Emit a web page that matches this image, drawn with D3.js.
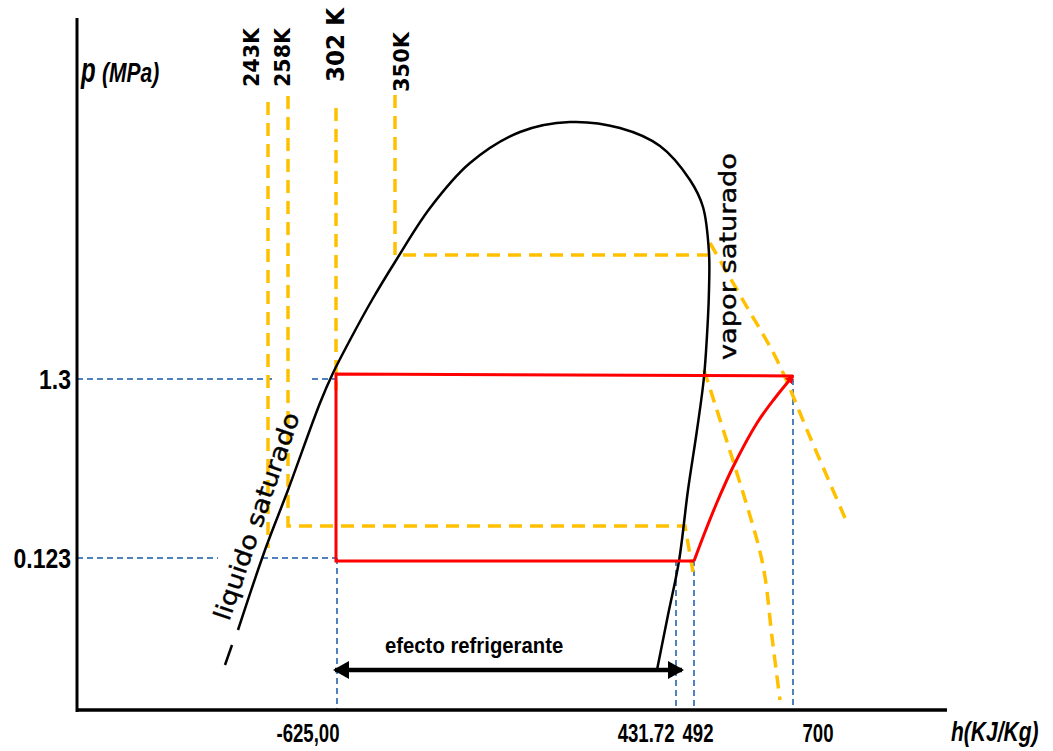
<!DOCTYPE html>
<html>
<head>
<meta charset="utf-8">
<script src="https://cdn.jsdelivr.net/npm/d3@7"></script>
<style>
  body { margin: 0; background: #fff; }
  .narrow { font-family: "Liberation Sans", Arial, sans-serif; font-weight: bold; fill: #000; }
  .verd { font-family: "DejaVu Sans", Verdana, sans-serif; fill: #000; }
</style>
</head>
<body>
<div id="chart"></div>
<script>
// unidades del diagrama (esquema, no escala real): x = h, y = p
var domo = [[161,80],[188,160],[211,220],[243,307],[256,337],[273,370],[295,410],[318,448],[353,502],
            [393,547],[443,578],[493,588],[543,582],[583,564],[613,530],[626,503],[632,457],[632,420],
            [631,393],[627,333],[620,280],[611,220],[602,149],[591,95],[580,40]];
var trazoSuelto = [[148,45],[155,65]];

var cicloRecto = [[716,334],[259,336],[259,149],[617,149]];
var compresion = [[617,149],[628,178],[641,210],[656,243],[680,287],[698,312],[716,334]];

var iso243 = [[191,608],[191,162]];
var iso258 = [[211,614],[211,184],[608,184],[616,138]];
var iso302 = [[259,602],[259,320]];
var iso302vapor = [[627,340],[680,170],[688,133],[695,73],[703,10]];
var iso350 = [[318,615],[318,455],[635,455]];
var iso350vapor = [[633,467],[667,408],[700,350],[733,273],[768,192]];
var temperaturas = ["243K", "258K", "302 K", "350K"];

var guias = [
  [[0,331],[195,331]], [[235,331],[260,331]],
  [[0,152],[141,152]], [[185,152],[260,152]],
  [[260,152],[260,0]], [[599,150],[599,0]], [[617,150],[617,0]], [[716,331],[716,0]]
];

var hTicks = [260, 599, 617, 716];
var hLabels = ["-625,00", "431.72", "492", "700"];
var pTicks = [331, 152];
var pLabels = ["1.3", "0.123"];
var efecto = [[258,40],[605,40]];

var width = 1053, height = 751;
var x = d3.scaleLinear().domain([0, 870]).range([77, 947]);
var y = d3.scaleLinear().domain([0, 690]).range([710, 20]);

var svg = d3.select("#chart").append("svg")
    .attr("width", width)
    .attr("height", height);

var defs = svg.append("defs");
defs.append("marker")
    .attr("id", "punta")
    .attr("viewBox", "0 0 16 18")
    .attr("refX", 14).attr("refY", 9)
    .attr("markerWidth", 16).attr("markerHeight", 18)
    .attr("markerUnits", "userSpaceOnUse")
    .attr("orient", "auto-start-reverse")
    .append("path").attr("d", "M0,0L16,9L0,18Z").attr("fill", "#000");
defs.append("marker")
    .attr("id", "puntaRoja")
    .attr("viewBox", "0 0 10 10")
    .attr("refX", 8).attr("refY", 5)
    .attr("markerWidth", 9).attr("markerHeight", 9)
    .attr("markerUnits", "userSpaceOnUse")
    .attr("orient", "auto")
    .append("path").attr("d", "M0,0L10,5L0,10Z").attr("fill", "red");

var linea = d3.line().x(function(d) { return x(d[0]); }).y(function(d) { return y(d[1]); });
var curva = d3.line().x(function(d) { return x(d[0]); }).y(function(d) { return y(d[1]); }).curve(d3.curveCatmullRom);

// texto estrecho y alto (imitando la fuente estirada del original)
function rotulo(padre, s, px, py, size, sy, anchor) {
  return padre.append("text").attr("class", "narrow")
    .attr("font-size", size)
    .attr("text-anchor", anchor || "start")
    .attr("transform", "translate(" + px + "," + py + ") scale(1," + sy + ")")
    .text(s);
}

// lineas guia azules
guias.forEach(function(g) {
  svg.append("path").attr("d", linea(g))
    .attr("fill", "none").attr("stroke", "#4f81bd")
    .attr("stroke-width", 2).attr("stroke-dasharray", "6,4");
});

// isotermas
function isoterma(datos, suave) {
  svg.append("path").attr("d", suave ? curva(datos) : linea(datos))
    .attr("fill", "none").attr("stroke", "#ffc000")
    .attr("stroke-width", 3.5).attr("stroke-dasharray", "13,8");
}
isoterma(iso243); isoterma(iso258); isoterma(iso302); isoterma(iso350);
isoterma(iso302vapor, true); isoterma(iso350vapor, true);

// campana de saturacion
svg.append("path").attr("d", curva(domo))
  .attr("fill", "none").attr("stroke", "#000").attr("stroke-width", 2.5);
svg.append("path").attr("d", linea(trazoSuelto))
  .attr("fill", "none").attr("stroke", "#000").attr("stroke-width", 2.5);

// ciclo de refrigeracion
svg.append("path").attr("d", linea(cicloRecto))
  .attr("fill", "none").attr("stroke", "red").attr("stroke-width", 3);
svg.append("path").attr("d", curva(compresion))
  .attr("fill", "none").attr("stroke", "red").attr("stroke-width", 3)
  .attr("marker-end", "url(#puntaRoja)");

// efecto refrigerante
svg.append("path").attr("d", linea(efecto))
  .attr("stroke", "#000").attr("stroke-width", 4.5)
  .attr("marker-start", "url(#punta)").attr("marker-end", "url(#punta)");
rotulo(svg, "efecto refrigerante", 385, 653, 20.3, 1.12);

// ejes
svg.append("line").attr("x1", 77).attr("x2", 77).attr("y1", 18).attr("y2", 712)
  .attr("stroke", "#000").attr("stroke-width", 3);
svg.append("line").attr("x1", 76).attr("x2", 947).attr("y1", 710).attr("y2", 710)
  .attr("stroke", "#000").attr("stroke-width", 3.5);

var xAxis = d3.axisBottom(x).tickValues(hTicks).tickSize(0)
  .tickFormat(function(d, i) { return hLabels[i]; });
var gx = svg.append("g").attr("transform", "translate(0,710)").call(xAxis);
gx.select(".domain").remove();
var hAjuste = [[2, "end"], [-2, "end"], [-12, "start"], [9, "start"]];
gx.selectAll(".tick text").attr("class", "narrow")
  .attr("font-size", 18.6).attr("dy", null).attr("x", null).attr("y", null)
  .attr("text-anchor", function(d, i) { return hAjuste[i][1]; })
  .attr("transform", function(d, i) { return "translate(" + hAjuste[i][0] + ",32) scale(1,1.35)"; });

var yAxis = d3.axisLeft(y).tickValues(pTicks).tickSize(0)
  .tickFormat(function(d, i) { return pLabels[i]; });
var gy = svg.append("g").attr("transform", "translate(71,0)").call(yAxis);
gy.select(".domain").remove();
gy.selectAll(".tick text").attr("class", "narrow")
  .attr("font-size", 23).attr("x", null).attr("dy", null)
  .attr("text-anchor", "end")
  .attr("transform", "translate(0,9) scale(1,1.18)");

// titulos de ejes
rotulo(svg, "p", 81, 82, 24, 1.5).attr("font-style", "italic");
rotulo(svg, "(MPa)", 102, 82, 21, 1.3).attr("font-style", "italic");
rotulo(svg, "h(KJ/Kg)", 951, 741, 21, 1.3).attr("font-style", "italic");

// etiquetas de temperatura
var tempPos = [[-9, 87, 21, 59], [2, 87, 21, 59], [8, 82, 24, 74], [14, 92, 22, 60]];
[iso243, iso258, iso302, iso350].forEach(function(iso, i) {
  var p = tempPos[i];
  svg.append("text").attr("class", "verd").attr("font-weight", "bold")
    .attr("font-size", p[2])
    .attr("textLength", p[3]).attr("lengthAdjust", "spacingAndGlyphs")
    .attr("transform", "translate(" + (x(iso[0][0]) + p[0]) + "," + p[1] + ") rotate(-90)")
    .text(temperaturas[i]);
});

// etiquetas de la campana
svg.append("text").attr("class", "verd").attr("font-size", 23)
  .attr("stroke", "#000").attr("stroke-width", 0.4)
  .attr("textLength", 207).attr("lengthAdjust", "spacingAndGlyphs")
  .attr("transform", "translate(736,360) rotate(-90)")
  .text("vapor saturado");
svg.append("text").attr("class", "verd").attr("font-size", 24)
  .attr("stroke", "#000").attr("stroke-width", 0.4)
  .attr("textLength", 218).attr("lengthAdjust", "spacingAndGlyphs")
  .attr("transform", "translate(229,622) rotate(-71)")
  .text("liquido saturado");
</script>
</body>
</html>
